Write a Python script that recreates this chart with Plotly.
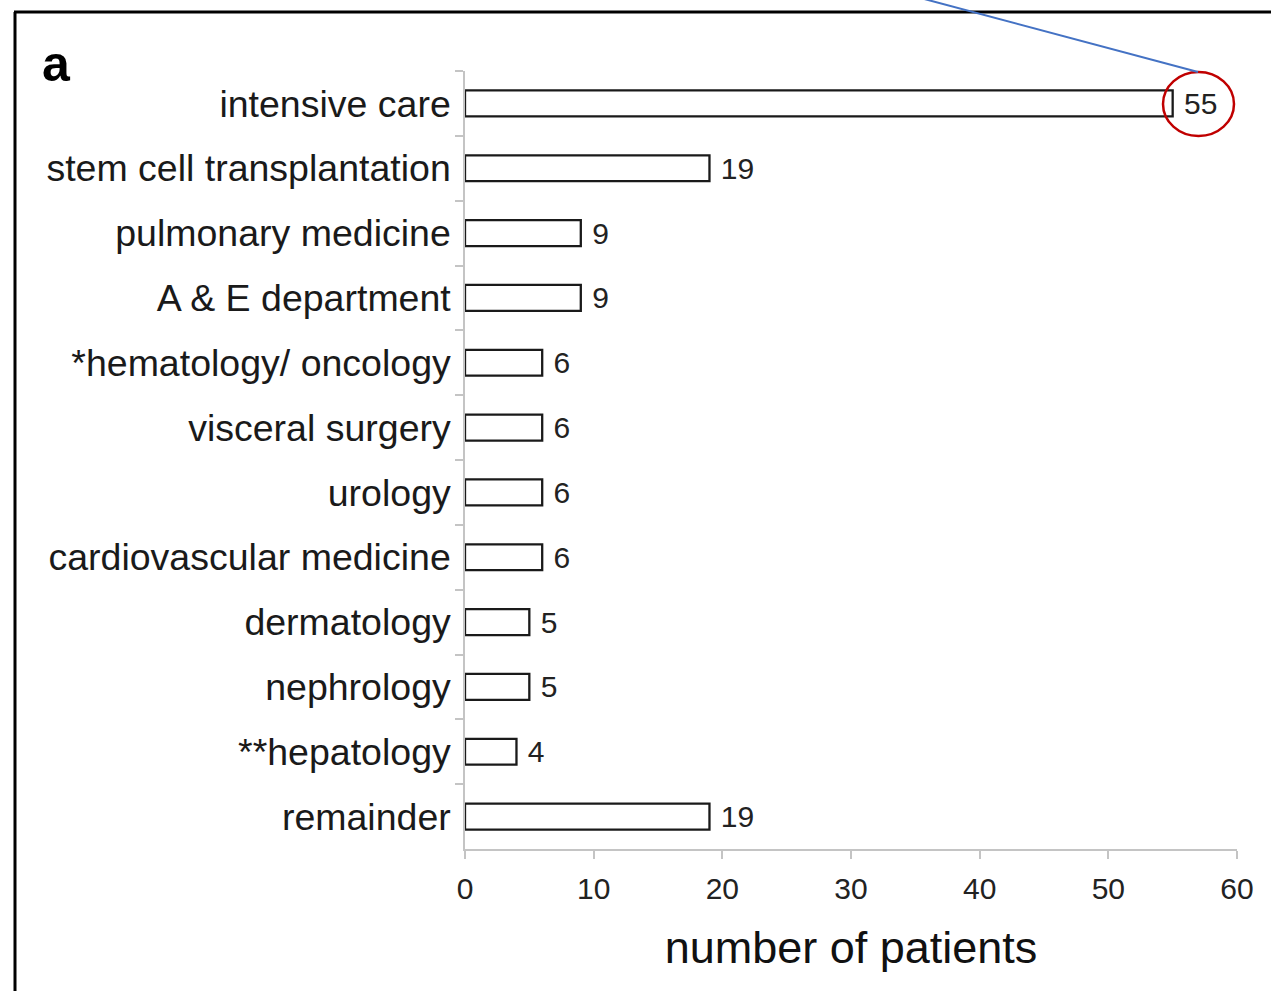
import plotly.graph_objects as go

categories = [
    "intensive care",
    "stem cell transplantation",
    "pulmonary medicine",
    "A & E department",
    "*hematology/ oncology",
    "visceral surgery",
    "urology",
    "cardiovascular medicine",
    "dermatology",
    "nephrology",
    "**hepatology",
    "remainder",
]
patients = [55, 19, 9, 9, 6, 6, 6, 6, 5, 5, 4, 19]
x_ticks = [0, 10, 20, 30, 40, 50, 60]
x_title = "number of patients"
panel_label = "a"

W, H = 1271, 991
ML, MR, MT, MB = 465, 34, 71, 142
PW, PH = W - ML - MR, H - MT - MB


def px(x):
    return (x - ML) / PW


def py(y):
    return (H - MB - y) / PH


FONT = "Liberation Sans, Arial, Helvetica, sans-serif"

fig = go.Figure(
    go.Bar(
        x=patients,
        y=categories,
        orientation="h",
        width=0.4,
        marker=dict(color="white", line=dict(color="#1a1a1a", width=2.3)),
        text=patients,
        texttemplate="\u00a0%{text}",
        textposition="outside",
        constraintext="none",
        textfont=dict(family=FONT, size=30, color="#222"),
        cliponaxis=False,
    )
)

fig.update_layout(
    width=W,
    height=H,
    margin=dict(l=ML, r=MR, t=MT, b=MB, pad=0),
    paper_bgcolor="white",
    plot_bgcolor="white",
    showlegend=False,
    font=dict(family=FONT, color="#1a1a1a"),
    xaxis=dict(
        range=[0, 60],
        tickvals=x_ticks,
        showgrid=False,
        zeroline=False,
        showline=True,
        linecolor="#c4c4c4",
        linewidth=1.5,
        ticks="outside",
        ticklen=8,
        tickcolor="#c4c4c4",
        tickwidth=1.5,
        tickfont=dict(size=30, color="#222"),
        ticklabelstandoff=4,
        title=dict(text=x_title, font=dict(size=45, color="#111"), standoff=28),
    ),
    yaxis=dict(
        autorange="reversed",
        showgrid=False,
        zeroline=False,
        showline=True,
        linecolor="#c4c4c4",
        linewidth=1.5,
        ticks="outside",
        tickson="boundaries",
        ticklen=8,
        tickcolor="#c4c4c4",
        tickwidth=1.5,
        tickfont=dict(size=37.5, color="#1a1a1a"),
        ticklabelstandoff=5,
    ),
    shapes=[
        # outer frame (left and top edges)
        dict(type="line", xref="paper", yref="paper",
             x0=px(15), y0=py(1200), x1=px(15), y1=py(12),
             line=dict(color="black", width=3)),
        dict(type="line", xref="paper", yref="paper",
             x0=px(14), y0=py(12), x1=px(1400), y1=py(12),
             line=dict(color="black", width=3)),
        # red highlight circle
        dict(type="circle", xref="paper", yref="paper",
             x0=px(1163), x1=px(1234), y0=py(136), y1=py(72),
             line=dict(color="#c00000", width=2.5)),
        # blue pointer line
        dict(type="line", xref="paper", yref="paper",
             x0=px(1198), y0=py(72), x1=px(898), y1=py(-8),
             line=dict(color="#4472c4", width=2)),
    ],
    annotations=[
        dict(text="<b>" + panel_label + "</b>", xref="paper", yref="paper",
             x=px(40), y=py(64), xanchor="left", yanchor="middle",
             showarrow=False, font=dict(size=50, color="black", family=FONT),
             ),
    ],
)

fig.write_html("out.html")
